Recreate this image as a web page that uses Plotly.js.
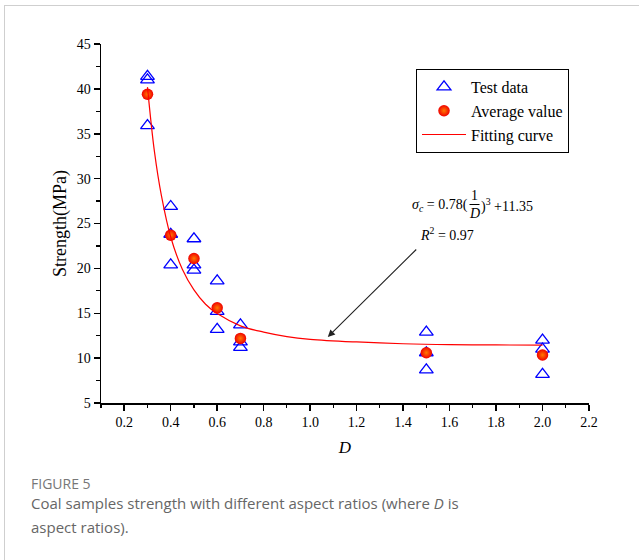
<!DOCTYPE html>
<html>
<head>
<meta charset="utf-8">
<script src="https://cdn.plot.ly/plotly-3.0.1.min.js"></script>
<style>
html,body{margin:0;padding:0;background:#fff;}
#wrap{position:relative;width:639px;height:560px;overflow:hidden;}
#chart{position:absolute;left:0;top:0;width:639px;height:560px;}
#frame{position:absolute;left:4px;top:5px;width:700px;height:600px;border-left:1.5px solid #cfcfcf;border-top:1.5px solid #cfcfcf;pointer-events:none;}
</style>
</head>
<body>
<div id="wrap"><div id="chart"></div><div id="frame"></div></div>
<script>
// Test data
const testD = [0.3,0.3,0.3, 0.4,0.4,0.4, 0.5,0.5,0.5, 0.6,0.6,0.6, 0.7,0.7,0.7, 1.5,1.5,1.5, 2.0,2.0,2.0];
const testS = [41.4,41.0,35.9, 26.9,23.8,20.4, 23.3,20.4,19.8, 18.6,15.2,13.2, 13.7,11.8,11.2, 12.9,10.6,8.7, 12.0,11.0,8.2];
// Average values
const avgD = [0.3,0.4,0.5,0.6,0.7,1.5,2.0];
const avgS = [39.4,23.7,21.1,15.6,12.2,10.6,10.35];
// Fitting curve
const fitD = [0.30,0.33,0.36,0.40,0.45,0.50,0.55,0.60,0.70,0.80,0.90,1.00,1.20,1.40,1.60,1.80,2.00];
const fitS = [40.2,33.0,28.1,23.5,19.9,17.6,16.0,14.96,13.6,12.9,12.4,12.1,11.8,11.6,11.5,11.47,11.45];
// Ticks
const xTicks = [0.2,0.4,0.6,0.8,1.0,1.2,1.4,1.6,1.8,2.0,2.2];
const xTickText = ['0.2','0.4','0.6','0.8','1.0','1.2','1.4','1.6','1.8','2.0','2.2'];
const yTicks = [5,10,15,20,25,30,35,40,45];
const yTickText = ['5','10','15','20','25','30','35','40','45'];

const L=101, R=589, T=44, B=403;
const px = x => (x-L)/(R-L);
const py = y => (B-y)/(B-T);
const serif = 'Liberation Serif';
const sans = 'Open Sans';

const traces = [
  {x:testD, y:testS, type:'scatter', mode:'markers', name:'Test data',
   marker:{symbol:'triangle-up-open', size:12, color:'#0000ff', line:{width:1.3, color:'#0000ff'}}},
  {x:avgD, y:avgS, type:'scatter', mode:'markers', name:'Average value',
   marker:{symbol:'circle', size:11.5, color:'#f00000', line:{width:0}, gradient:{type:'radial', color:'#ff7a00'}}},
  {x:fitD, y:fitS, type:'scatter', mode:'lines', name:'Fitting curve',
   line:{color:'#ff0000', width:1.2, shape:'spline'}}
];

const eqFont = {family:serif, size:14, color:'#000'};
const ann = [
  {x:1.076, y:12.35, ax:1.463, ay:22.27, xref:'x', yref:'y', axref:'x', ayref:'y', text:'', showarrow:true,
   arrowhead:2, arrowsize:1.3, arrowwidth:1.1, arrowcolor:'#222'},
  {xref:'paper', yref:'paper', x:px(470), y:py(205), xanchor:'right', yanchor:'middle', showarrow:false,
   text:'<i>σ</i><sub><i>c</i></sub> = 0.78(', font:eqFont},
  {xref:'paper', yref:'paper', x:px(474.5), y:py(195), xanchor:'center', yanchor:'middle', showarrow:false,
   text:'1', font:eqFont},
  {xref:'paper', yref:'paper', x:px(474.5), y:py(214), xanchor:'center', yanchor:'middle', showarrow:false,
   text:'<i>D</i>', font:eqFont},
  {xref:'paper', yref:'paper', x:px(479), y:py(205), xanchor:'left', yanchor:'middle', showarrow:false,
   text:')<sup>3</sup> +11.35', font:eqFont},
  {xref:'paper', yref:'paper', x:px(418), y:py(234), xanchor:'left', yanchor:'middle', showarrow:false,
   text:'<i>R</i><sup>2</sup> = 0.97', font:eqFont},
  {xref:'paper', yref:'paper', x:px(29), y:py(483), xanchor:'left', yanchor:'middle', showarrow:false,
   text:'FIGURE 5', font:{family:sans, size:14, color:'#777'}},
  {xref:'paper', yref:'paper', x:px(29), y:py(503), xanchor:'left', yanchor:'middle', showarrow:false,
   text:'Coal samples strength with different aspect ratios (where <i>D</i> is', font:{family:sans, size:15, color:'#666'}},
  {xref:'paper', yref:'paper', x:px(29), y:py(527), xanchor:'left', yanchor:'middle', showarrow:false,
   text:'aspect ratios).', font:{family:sans, size:15, color:'#666'}}
];

const shapes = [
  {type:'line', xref:'paper', yref:'paper', x0:px(469.5), x1:px(479.5), y0:py(204.5), y1:py(204.5), line:{color:'#000', width:1}}
];

const layout = {
  width:639, height:560,
  font:{family:serif, size:14, color:'#000'},
  margin:{l:L, r:639-R, t:T, b:560-B, pad:0},
  paper_bgcolor:'#fff', plot_bgcolor:'#fff',
  showlegend:true,
  legend:{x:px(416), y:py(69), xanchor:'left', yanchor:'top', bgcolor:'#fff', bordercolor:'#000', borderwidth:1,
    font:{family:serif, size:16, color:'#000'}, tracegroupgap:0, itemwidth:44},
  xaxis:{range:[0.1,2.2], tickmode:'array', tickvals:xTicks, ticktext:xTickText, showgrid:false, zeroline:false,
    showline:true, linecolor:'#000', linewidth:1.5, ticks:'outside', ticklen:6, tickwidth:1.5, tickcolor:'#000',
    minor:{dtick:0.1, tick0:0.1, ticks:'outside', ticklen:3.5, tickwidth:1.2, tickcolor:'#000', showgrid:false},
    tickfont:{family:serif, size:14, color:'#000'},
    title:{text:'<i>D</i>', font:{family:serif, size:17, color:'#000'}, standoff:12}},
  yaxis:{range:[5,45], tickmode:'array', tickvals:yTicks, ticktext:yTickText, showgrid:false, zeroline:false,
    showline:true, linecolor:'#000', linewidth:1.5, ticks:'outside', ticklen:6, tickwidth:1.5, tickcolor:'#000',
    minor:{dtick:2.5, tick0:5, ticks:'outside', ticklen:3.5, tickwidth:1.2, tickcolor:'#000', showgrid:false},
    tickfont:{family:serif, size:14, color:'#000'},
    title:{text:'Strength(MPa)', font:{family:serif, size:18, color:'#000'}, standoff:5}},
  annotations:ann, shapes:shapes
};
Plotly.newPlot('chart', traces, layout, {displayModeBar:false, staticPlot:true});
</script>
</body>
</html>
